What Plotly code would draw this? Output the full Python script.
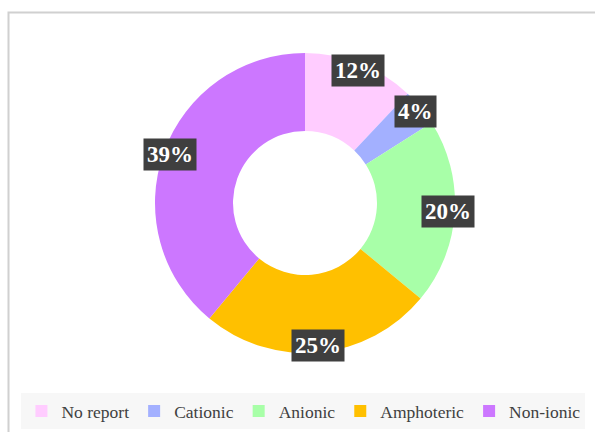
import math
import plotly.graph_objects as go

categories = ["No report", "Cationic", "Anionic", "Amphoteric", "Non-ionic"]
values = [12, 4, 20, 25, 39]
colors = ["#FFCCFF", "#A3B0FF", "#A8FFA8", "#FFC000", "#CC77FF"]

W, H = 595, 432
cx, cy, R = 305, 203, 150

fig = go.Figure(go.Pie(
    labels=categories, values=values, sort=False, direction="clockwise",
    rotation=0, hole=0.48, textinfo="none", hoverinfo="label+percent",
    marker=dict(colors=colors, line=dict(width=0)),
    domain=dict(x=[(cx - R) / W, (cx + R) / W], y=[1 - (cy + R) / H, 1 - (cy - R) / H]),
))

total = sum(values)
cum = 0
annotations = []
for v in values:
    mid = (cum + v / 2) / total * 2 * math.pi
    cum += v
    r = 143
    px = cx + r * math.sin(mid)
    py = cy - r * math.cos(mid)
    annotations.append(dict(
        x=px / W, y=1 - py / H, xref="paper", yref="paper",
        xanchor="center", yanchor="middle",
        text=f"<b>{round(v / total * 100)}%</b>", showarrow=False,
        font=dict(family="Liberation Serif", size=23, color="white"),
        bgcolor="#3F3F3F", borderpad=3,
    ))

fig.update_layout(
    width=W, height=H, margin=dict(l=0, r=0, t=0, b=0),
    paper_bgcolor="white", plot_bgcolor="white",
    font=dict(family="Liberation Serif", color="#404040"),
    annotations=annotations,
    showlegend=True,
    legend=dict(orientation="h", x=0.51, xanchor="center", y=1 - 411 / H, yanchor="middle",
                bgcolor="#F7F7F7", font=dict(family="Liberation Serif", size=17.5, color="#404040"),
                itemwidth=30, traceorder="normal"),
    shapes=[dict(type="rect", xref="paper", yref="paper", x0=8.5 / W, x1=1.05, y0=-0.1, y1=1 - 12.5 / H,
                 line=dict(color="#D0D0D0", width=2), layer="below")],
)

fig.write_html("out.html")
